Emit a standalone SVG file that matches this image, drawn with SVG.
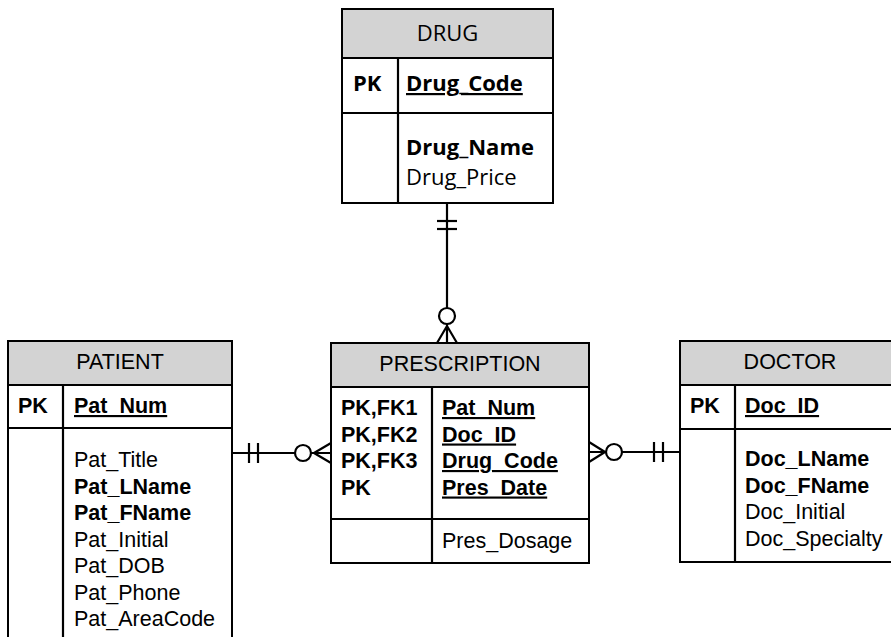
<svg xmlns="http://www.w3.org/2000/svg" width="891" height="637" viewBox="0 0 891 637">
<style>
.box{fill:#fff;stroke:#000;stroke-width:2}
.hdr{fill:#d3d3d3;stroke:#000;stroke-width:2}
.ln{stroke:#000;stroke-width:2.2;fill:none}
.a{font-family:"Liberation Sans",Arial,sans-serif;font-size:21.5px;fill:#000}
.o{font-family:"Open Sans","Noto Sans",sans-serif;font-size:22px;fill:#000}
.b{font-weight:bold}
.u{text-decoration:underline}
.c{text-anchor:middle}
</style>
<rect width="891" height="637" fill="#fff"/>
<g id="connectors">
  <!-- DRUG - PRESCRIPTION -->
  <line class="ln" x1="447" y1="203" x2="447" y2="308"/>
  <line class="ln" x1="437" y1="221" x2="457" y2="221"/>
  <line class="ln" x1="437" y1="229" x2="457" y2="229"/>
  <circle class="ln" cx="447" cy="316" r="8"/>
  <path class="ln" d="M447,324 V343 M447,326 L437,343 M447,326 L457,343"/>
  <!-- PATIENT - PRESCRIPTION -->
  <line class="ln" x1="232" y1="453" x2="295" y2="453"/>
  <line class="ln" x1="249" y1="443" x2="249" y2="463"/>
  <line class="ln" x1="258" y1="443" x2="258" y2="463"/>
  <circle class="ln" cx="303" cy="453" r="8"/>
  <path class="ln" d="M311,453 H331 M314,453 L331,443 M314,453 L331,463"/>
  <!-- DOCTOR - PRESCRIPTION -->
  <line class="ln" x1="622" y1="452" x2="680" y2="452"/>
  <line class="ln" x1="654" y1="442" x2="654" y2="462"/>
  <line class="ln" x1="663" y1="442" x2="663" y2="462"/>
  <circle class="ln" cx="614" cy="452" r="8"/>
  <path class="ln" d="M589,452 H606 M605,452 L589,442 M605,452 L589,462"/>
</g>
<g id="drug">
  <rect class="box" x="342" y="9" width="211" height="194"/>
  <rect class="hdr" x="342" y="9" width="211" height="49"/>
  <line class="ln" x1="342" y1="113" x2="553" y2="113"/>
  <line class="ln" x1="398" y1="58" x2="398" y2="203"/>
  <text class="o c" x="447.5" y="41">DRUG</text>
  <text class="o b" x="353" y="91">PK</text>
  <text class="o b u" x="406" y="91">Drug_Code</text>
  <text class="o b" x="406" y="155">Drug_Name</text>
  <text class="o" x="406" y="185">Drug_Price</text>
</g>
<g id="patient">
  <rect class="box" x="8" y="341" width="224" height="310"/>
  <rect class="hdr" x="8" y="341" width="224" height="44"/>
  <line class="ln" x1="8" y1="428" x2="232" y2="428"/>
  <line class="ln" x1="63" y1="385" x2="63" y2="651"/>
  <text class="a c" x="120" y="369">PATIENT</text>
  <text class="a b" x="18" y="413">PK</text>
  <text class="a b u" x="74" y="413">Pat_Num</text>
  <text class="a" x="74" y="467">Pat_Title</text>
  <text class="a b" x="74" y="493.5">Pat_LName</text>
  <text class="a b" x="74" y="520">Pat_FName</text>
  <text class="a" x="74" y="546.5">Pat_Initial</text>
  <text class="a" x="74" y="573">Pat_DOB</text>
  <text class="a" x="74" y="599.5">Pat_Phone</text>
  <text class="a" x="74" y="626">Pat_AreaCode</text>
</g>
<g id="prescription">
  <rect class="box" x="331" y="343" width="258" height="220"/>
  <rect class="hdr" x="331" y="343" width="258" height="44"/>
  <line class="ln" x1="331" y1="519" x2="589" y2="519"/>
  <line class="ln" x1="432" y1="387" x2="432" y2="563"/>
  <text class="a c" x="460" y="371">PRESCRIPTION</text>
  <text class="a b" x="341" y="415">PK,FK1</text>
  <text class="a b" x="341" y="441.5">PK,FK2</text>
  <text class="a b" x="341" y="468">PK,FK3</text>
  <text class="a b" x="341" y="494.5">PK</text>
  <text class="a b u" x="442" y="415">Pat_Num</text>
  <text class="a b u" x="442" y="441.5">Doc_ID</text>
  <text class="a b u" x="442" y="468">Drug_Code</text>
  <text class="a b u" x="442" y="494.5">Pres_Date</text>
  <text class="a" x="442" y="548">Pres_Dosage</text>
</g>
<g id="doctor">
  <rect class="box" x="680" y="341" width="220" height="221"/>
  <rect class="hdr" x="680" y="341" width="220" height="44"/>
  <line class="ln" x1="680" y1="429" x2="900" y2="429"/>
  <line class="ln" x1="735" y1="385" x2="735" y2="562"/>
  <text class="a c" x="790" y="369">DOCTOR</text>
  <text class="a b" x="690" y="413">PK</text>
  <text class="a b u" x="745" y="413">Doc_ID</text>
  <text class="a b" x="745" y="466">Doc_LName</text>
  <text class="a b" x="745" y="492.5">Doc_FName</text>
  <text class="a" x="745" y="519">Doc_Initial</text>
  <text class="a" x="745" y="545.5">Doc_Specialty</text>
</g>
</svg>
